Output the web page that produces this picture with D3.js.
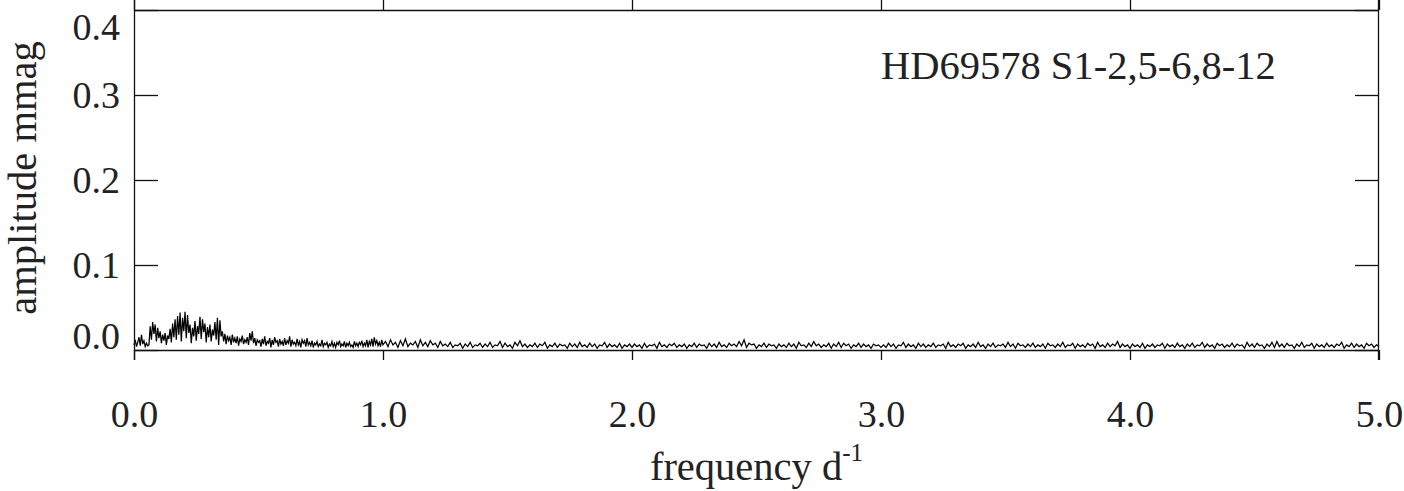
<!DOCTYPE html>
<html>
<head>
<meta charset="utf-8">
<script src="https://cdn.jsdelivr.net/npm/d3@7"></script>
<style>
  html, body { margin: 0; padding: 0; background: #fff; }
  svg { display: block; }
  text { font-family: "Liberation Serif", "Times New Roman", serif; fill: #222; }
</style>
</head>
<body>
<svg id="chart" width="1404" height="491"></svg>
<script>
// ---- data (amplitude in mmag) ----
const xTickValues = [0, 1, 2, 3, 4, 5];
const xTickLabels = ["0.0", "1.0", "2.0", "3.0", "4.0", "5.0"];
const yTickValues = [0, 0.1, 0.2, 0.3, 0.4];
const yTickLabels = ["0.0", "0.1", "0.2", "0.3", "0.4"];
const annotation = "HD69578 S1-2,5-6,8-12";

// 0.000 - 1.000 d^-1, step 0.005
const lowStep = 0.005;
const ampLow = [
  0.006, 0.012, 0.004, 0.009, 0.015, 0.005, 0.018, 0.007, 0.011, 0.004, 0.008, 0.005, 0.006,
  0.028, 0.012, 0.033, 0.019, 0.030, 0.010, 0.026, 0.014,
  0.022, 0.008, 0.018, 0.011, 0.020, 0.006, 0.017, 0.013,
  0.025, 0.009, 0.031, 0.015, 0.036, 0.012,
  0.040, 0.018, 0.044, 0.010, 0.038, 0.022, 0.045, 0.014, 0.041, 0.020,
  0.030, 0.008, 0.026, 0.016, 0.034, 0.011, 0.028, 0.019,
  0.039, 0.013, 0.036, 0.021, 0.031, 0.009,
  0.027, 0.015, 0.030, 0.010, 0.024, 0.017,
  0.033, 0.012, 0.038, 0.006, 0.035, 0.016,
  0.022, 0.010, 0.019, 0.007, 0.017, 0.011, 0.015, 0.006, 0.018, 0.009,
  0.014, 0.008, 0.016, 0.005, 0.013, 0.010, 0.017, 0.007, 0.012, 0.009,
  0.015, 0.006, 0.020, 0.011, 0.022, 0.008, 0.014, 0.005, 0.012, 0.009,
  0.011, 0.004, 0.013, 0.007, 0.016, 0.005, 0.010, 0.008, 0.014, 0.003, 0.012, 0.006, 0.015, 0.009, 0.011, 0.004, 0.013, 0.007, 0.010, 0.005,
  0.014, 0.006, 0.011, 0.008, 0.016, 0.004, 0.012, 0.007, 0.009, 0.005, 0.013, 0.006, 0.010, 0.003, 0.012, 0.008, 0.011, 0.004, 0.014, 0.006,
  0.009, 0.005, 0.011, 0.003, 0.008, 0.006, 0.010, 0.004, 0.007, 0.005, 0.012, 0.004, 0.008, 0.006, 0.009, 0.003, 0.007, 0.005, 0.010, 0.004,
  0.008, 0.003, 0.009, 0.006, 0.011, 0.004, 0.007, 0.005, 0.010, 0.003, 0.008, 0.005, 0.009, 0.004, 0.006, 0.003, 0.010, 0.005, 0.008, 0.004,
  0.009, 0.006, 0.011, 0.004, 0.008, 0.005, 0.012, 0.003, 0.010, 0.006, 0.013, 0.004, 0.015, 0.007, 0.011, 0.005, 0.009, 0.004, 0.012, 0.006
];

// 1.01 - 5.00 d^-1, step 0.01
const highStart = 1.01;
const highStep = 0.01;
const ampHigh = [
  0.010, 0.004, 0.012, 0.006, 0.009, 0.003, 0.011, 0.005, 0.013, 0.004, 0.008, 0.006, 0.010, 0.003, 0.012, 0.005, 0.009, 0.004, 0.011, 0.006,
  0.008, 0.003, 0.010, 0.005, 0.007, 0.004, 0.009, 0.003, 0.006, 0.005, 0.008, 0.002, 0.007, 0.004, 0.009, 0.003, 0.006, 0.005, 0.008, 0.003,
  0.007, 0.004, 0.009, 0.003, 0.006, 0.005, 0.010, 0.003, 0.008, 0.004, 0.006, 0.002, 0.009, 0.005, 0.011, 0.004, 0.007, 0.003, 0.006, 0.004,
  0.008, 0.003, 0.007, 0.005, 0.009, 0.002, 0.006, 0.004, 0.008, 0.003, 0.007, 0.005, 0.006, 0.002, 0.008, 0.004, 0.007, 0.003, 0.009, 0.004,
  0.006, 0.003, 0.008, 0.004, 0.007, 0.002, 0.006, 0.005, 0.009, 0.003, 0.007, 0.004, 0.006, 0.003, 0.008, 0.002, 0.006, 0.004, 0.007, 0.003,
  0.007, 0.004, 0.006, 0.002, 0.008, 0.003, 0.006, 0.005, 0.007, 0.002, 0.009, 0.004, 0.006, 0.003, 0.007, 0.005, 0.008, 0.003, 0.006, 0.004,
  0.007, 0.002, 0.006, 0.004, 0.008, 0.003, 0.007, 0.005, 0.006, 0.002, 0.008, 0.004, 0.007, 0.003, 0.009, 0.004, 0.006, 0.003, 0.008, 0.005,
  0.007, 0.004, 0.010, 0.005, 0.012, 0.003, 0.008, 0.006, 0.007, 0.002, 0.006, 0.004, 0.008, 0.003, 0.007, 0.005, 0.006, 0.002, 0.007, 0.004,
  0.006, 0.003, 0.008, 0.004, 0.007, 0.002, 0.009, 0.005, 0.006, 0.003, 0.008, 0.004, 0.010, 0.005, 0.007, 0.003, 0.006, 0.004, 0.008, 0.002,
  0.007, 0.004, 0.009, 0.003, 0.008, 0.005, 0.007, 0.002, 0.006, 0.004, 0.008, 0.003, 0.007, 0.004, 0.006, 0.002, 0.007, 0.005, 0.006, 0.003,
  0.006, 0.003, 0.008, 0.004, 0.007, 0.002, 0.006, 0.005, 0.009, 0.003, 0.007, 0.004, 0.006, 0.002, 0.008, 0.004, 0.007, 0.003, 0.006, 0.004,
  0.008, 0.003, 0.006, 0.005, 0.007, 0.002, 0.009, 0.004, 0.006, 0.003, 0.007, 0.005, 0.008, 0.002, 0.006, 0.004, 0.007, 0.003, 0.009, 0.004,
  0.006, 0.002, 0.007, 0.004, 0.008, 0.003, 0.006, 0.005, 0.007, 0.003, 0.009, 0.004, 0.007, 0.002, 0.008, 0.005, 0.006, 0.003, 0.007, 0.004,
  0.008, 0.003, 0.006, 0.004, 0.007, 0.002, 0.008, 0.005, 0.006, 0.003, 0.007, 0.004, 0.009, 0.003, 0.006, 0.005, 0.008, 0.002, 0.007, 0.004,
  0.006, 0.003, 0.008, 0.005, 0.007, 0.002, 0.009, 0.004, 0.006, 0.003, 0.008, 0.004, 0.007, 0.005, 0.010, 0.003, 0.007, 0.004, 0.006, 0.002,
  0.007, 0.004, 0.006, 0.003, 0.008, 0.002, 0.006, 0.004, 0.007, 0.003, 0.006, 0.005, 0.008, 0.002, 0.007, 0.004, 0.006, 0.003, 0.008, 0.004,
  0.006, 0.002, 0.007, 0.004, 0.008, 0.003, 0.006, 0.005, 0.009, 0.003, 0.007, 0.004, 0.006, 0.002, 0.008, 0.005, 0.007, 0.003, 0.006, 0.004,
  0.008, 0.003, 0.007, 0.005, 0.006, 0.002, 0.009, 0.004, 0.007, 0.003, 0.008, 0.005, 0.006, 0.002, 0.007, 0.004, 0.009, 0.003, 0.010, 0.004,
  0.007, 0.003, 0.008, 0.005, 0.006, 0.002, 0.007, 0.004, 0.009, 0.003, 0.006, 0.005, 0.008, 0.002, 0.007, 0.004, 0.006, 0.003, 0.008, 0.004,
  0.006, 0.003, 0.007, 0.005, 0.009, 0.002, 0.006, 0.004, 0.008, 0.003, 0.007, 0.004, 0.006, 0.002, 0.008, 0.005, 0.007, 0.003, 0.006, 0.004
];

// ---- build table ----
const series = [];
ampLow.forEach((a, i) => series.push({ f: i * lowStep, a }));
ampHigh.forEach((a, i) => series.push({ f: highStart + i * highStep, a }));

// ---- layout ----
const svg = d3.select("#chart");
const mLeft = 134, mRight = 1379, mTop = 10, mBottom = 350;
const x = d3.scaleLinear().domain([0, 5]).range([mLeft, mRight]);
const y = d3.scaleLinear().domain([0, 0.4]).range([mBottom, mTop]);
const fs = 38;      // tick labels
const fsTitle = 40.5; // titles and annotation

// data line
svg.append("path")
  .datum(series)
  .attr("fill", "none")
  .attr("stroke", "#000")
  .attr("stroke-width", 1.25)
  .attr("stroke-linejoin", "miter")
  .attr("d", d3.line().x(d => x(d.f)).y(d => y(d.a)));

const axisStroke = "#111";
// frame
svg.append("line").attr("x1", mLeft).attr("x2", mRight).attr("y1", mTop + 0.5).attr("y2", mTop + 0.5).attr("stroke", axisStroke).attr("stroke-width", 1.3);
svg.append("line").attr("x1", mLeft).attr("x2", mRight).attr("y1", mBottom + 0.5).attr("y2", mBottom + 0.5).attr("stroke", axisStroke).attr("stroke-width", 1.3);
svg.append("line").attr("x1", mLeft + 0.5).attr("x2", mLeft + 0.5).attr("y1", 0).attr("y2", mBottom + 10).attr("stroke", axisStroke).attr("stroke-width", 1.3);
svg.append("line").attr("x1", mRight - 0.5).attr("x2", mRight - 0.5).attr("y1", 0).attr("y2", mBottom + 10).attr("stroke", axisStroke).attr("stroke-width", 1.3);

// x axis bottom
const xAxis = d3.axisBottom(x).tickValues(xTickValues)
  .tickFormat((d, i) => xTickLabels[i]).tickSizeInner(10).tickSizeOuter(0).tickPadding(40);
const gx = svg.append("g").attr("transform", `translate(0,${mBottom})`).call(xAxis);
gx.select(".domain").remove();
gx.selectAll(".tick line").attr("stroke", axisStroke).attr("stroke-width", 1.3);
gx.selectAll(".tick text").attr("font-size", fs).attr("font-family", "Liberation Serif").attr("fill", "#222");

// x axis top (ticks only)
const xTop = d3.axisTop(x).tickValues(xTickValues).tickFormat("").tickSizeInner(10).tickSizeOuter(0);
const gxt = svg.append("g").attr("transform", `translate(0,${mTop})`).call(xTop);
gxt.select(".domain").remove();
gxt.selectAll(".tick line").attr("stroke", axisStroke).attr("stroke-width", 1.3);

// y axis left (inward ticks)
const yAxis = d3.axisLeft(y).tickValues(yTickValues)
  .tickFormat((d, i) => yTickLabels[i]).tickSizeInner(-24).tickSizeOuter(0).tickPadding(14);
const gy = svg.append("g").attr("transform", `translate(${mLeft},0)`).call(yAxis);
gy.select(".domain").remove();
gy.selectAll(".tick line").attr("stroke", axisStroke).attr("stroke-width", 1.3);
gy.selectAll(".tick text")
  .attr("font-size", fs).attr("font-family", "Liberation Serif").attr("fill", "#222")
  .attr("x", -14)
  .attr("dy", d => d === 0 ? "-0.05em" : (d === 0.4 ? "0.78em" : "0.32em"));

// y axis right (inward ticks)
const yRight = d3.axisRight(y).tickValues(yTickValues).tickFormat("").tickSizeInner(-24).tickSizeOuter(0);
const gyr = svg.append("g").attr("transform", `translate(${mRight},0)`).call(yRight);
gyr.select(".domain").remove();
gyr.selectAll(".tick line").attr("stroke", axisStroke).attr("stroke-width", 1.3);

// axis titles
const xt = svg.append("text")
  .attr("x", (mLeft + mRight) / 2).attr("y", 480)
  .attr("text-anchor", "middle").attr("font-size", fsTitle);
xt.append("tspan").text("frequency d");
xt.append("tspan").attr("font-size", fsTitle * 0.62).attr("dy", "-0.75em").text("-1");

svg.append("text")
  .attr("transform", `translate(36,${178}) rotate(-90)`)
  .attr("text-anchor", "middle").attr("font-size", fsTitle)
  .text("amplitude mmag");

// annotation
svg.append("text")
  .attr("x", 881).attr("y", 79)
  .attr("font-size", fsTitle)
  .text(annotation);
</script>
</body>
</html>
